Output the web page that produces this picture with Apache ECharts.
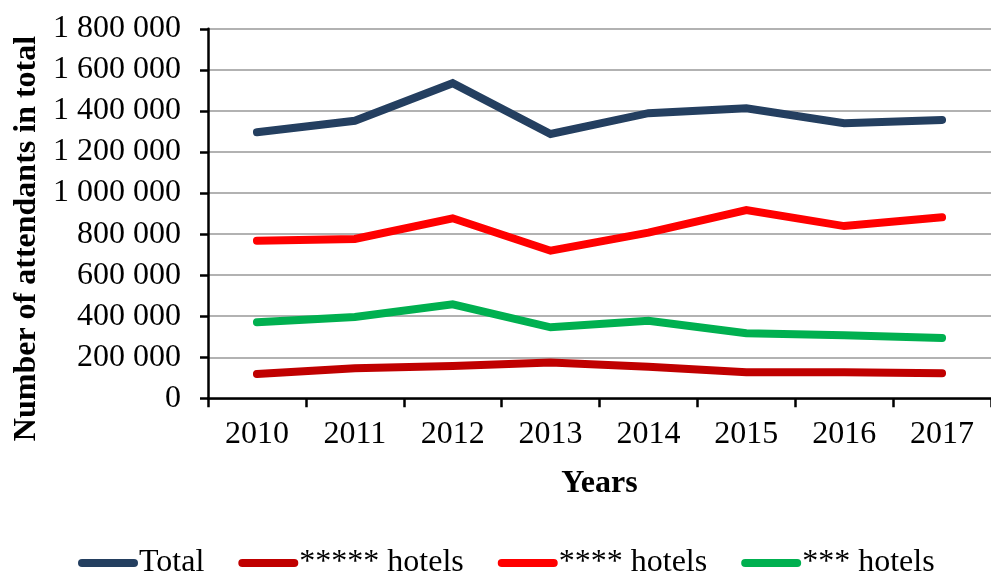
<!DOCTYPE html>
<html>
<head>
<meta charset="utf-8">
<script src="https://cdn.jsdelivr.net/npm/echarts@6/dist/echarts.min.js"></script>
<style>
  html, body { margin: 0; padding: 0; background: #fff; }
  #chart { width: 991px; height: 574px; }
</style>
</head>
<body>
<div id="chart"></div>
<script>
  // data
  const years = ["2010", "2011", "2012", "2013", "2014", "2015", "2016", "2017"];
  const total = [1296000, 1352000, 1535000, 1288000, 1389000, 1413000, 1340000, 1356000];
  const fiveStar = [118000, 146000, 157000, 175000, 154000, 127000, 127000, 122000];
  const fourStar = [768000, 776000, 877000, 719000, 807000, 917000, 839000, 882000];
  const threeStar = [370000, 396000, 458000, 346000, 378000, 317000, 307000, 294000];
  const yTicks = [0, 200000, 400000, 600000, 800000, 1000000, 1200000, 1400000, 1600000, 1800000];

  const font = "'Liberation Serif', 'Times New Roman', serif";

  function line(name, data, color) {
    return {
      name: name,
      type: "line",
      data: data,
      symbol: "none",
      lineStyle: { color: color, width: 8, cap: "round", join: "miter" },
      itemStyle: { color: color }
    };
  }

  const chart = echarts.init(document.getElementById("chart"), null, { renderer: "canvas" });
  chart.setOption({
    animation: false,
    backgroundColor: "#fff",
    textStyle: { fontFamily: font },
    grid: { left: 208, right: -11.6, top: 28.85, bottom: 175.7 },
    legend: {
      left: 78,
      top: 547,
      padding: 0,
      itemWidth: 52,
      itemHeight: 14,
      itemGap: 34,
      itemStyle: { opacity: 0 },
      lineStyle: { width: 8, cap: "round", opacity: 1 },
      textStyle: { fontFamily: font, fontSize: 32, color: "#000" }
    },
    xAxis: {
      type: "category",
      data: years,
      boundaryGap: true,
      name: "Years",
      nameLocation: "middle",
      nameGap: 69,
      nameTextStyle: { fontFamily: font, fontSize: 32, fontWeight: "bold", color: "#000" },
      axisLine: { lineStyle: { color: "#000", width: 2.5 } },
      axisTick: { show: true, length: 9, interval: 0, lineStyle: { color: "#000", width: 2.5 } },
      axisLabel: { fontFamily: font, fontSize: 32, color: "#000", margin: 20, interval: 0 },
      splitLine: { show: false }
    },
    yAxis: {
      type: "value",
      min: yTicks[0],
      max: yTicks[yTicks.length - 1],
      interval: yTicks[1] - yTicks[0],
      axisLine: { show: true, lineStyle: { color: "#000", width: 2.5 } },
      axisTick: { show: true, length: 8, lineStyle: { color: "#000", width: 2.5 } },
      axisLabel: {
        fontFamily: font, fontSize: 32, color: "#000", margin: 27,
        formatter: function (v) { return String(v).replace(/\B(?=(\d{3})+(?!\d))/g, " "); }
      },
      splitLine: { show: true, lineStyle: { color: "#999", width: 1.6 } }
    },
    graphic: [{
      type: "text",
      x: 26.5,
      y: 238.5,
      rotation: Math.PI / 2,
      style: {
        text: "Number of attendants in total",
        fontFamily: font, fontSize: 32, fontWeight: "bold", fill: "#000",
        align: "center", verticalAlign: "middle"
      }
    }],
    series: [
      line("Total", total, "#243F60"),
      line("***** hotels", fiveStar, "#C00000"),
      line("**** hotels", fourStar, "#FF0000"),
      line("*** hotels", threeStar, "#00B050")
    ]
  });
</script>
</body>
</html>
